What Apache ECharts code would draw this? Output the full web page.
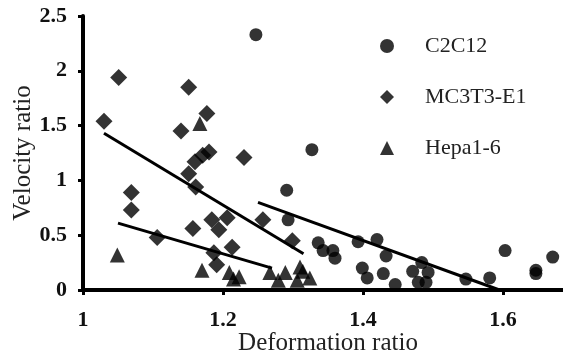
<!DOCTYPE html>
<html>
<head>
<meta charset="utf-8">
<script src="https://cdn.jsdelivr.net/npm/echarts@6/dist/echarts.min.js"></script>
<style>
  html, body { margin: 0; padding: 0; background: #fff; }
  #main { width: 563px; height: 354px; }
</style>
</head>
<body>
<div id="main"></div>
<script>
// points: [deformation ratio, velocity ratio]
var c2c12 = [
    [1.247, 2.33], [1.327, 1.28], [1.291, 0.91], [1.293, 0.64], [1.336, 0.43],
    [1.343, 0.36], [1.357, 0.36], [1.360, 0.29], [1.393, 0.44], [1.399, 0.20],
    [1.406, 0.11], [1.420, 0.46], [1.433, 0.31], [1.429, 0.15], [1.446, 0.05],
    [1.471, 0.17], [1.484, 0.25], [1.493, 0.16], [1.479, 0.07], [1.490, 0.07],
    [1.547, 0.10], [1.581, 0.11], [1.603, 0.36], [1.647, 0.18], [1.647, 0.15],
    [1.671, 0.30]
];
var mc3t3 = [
    [1.030, 1.54], [1.051, 1.94], [1.151, 1.85], [1.140, 1.45], [1.177, 1.61],
    [1.230, 1.21], [1.160, 1.17], [1.171, 1.23], [1.180, 1.26], [1.151, 1.06],
    [1.161, 0.94], [1.069, 0.89], [1.069, 0.73], [1.106, 0.48], [1.157, 0.56],
    [1.184, 0.64], [1.194, 0.55], [1.206, 0.66], [1.213, 0.39], [1.187, 0.34],
    [1.191, 0.23], [1.257, 0.64], [1.299, 0.45]
];
var hepa = [
    [1.049, 0.32], [1.167, 1.52], [1.170, 0.18], [1.209, 0.16], [1.215, 0.10],
    [1.223, 0.12], [1.267, 0.16], [1.279, 0.09], [1.289, 0.16], [1.306, 0.09],
    [1.310, 0.21], [1.314, 0.17], [1.324, 0.11]
];
// trend line end points
var fitC2c12 = [[1.25, 0.80], [1.595, 0.0]];
var fitMc3t3 = [[1.03, 1.43], [1.315, 0.33]];
var fitHepa = [[1.05, 0.61], [1.27, 0.20]];

var seriesNames = ['C2C12', 'MC3T3-E1', 'Hepa1-6'];

var chart = echarts.init(document.getElementById('main'));

var fitLine = function (data) {
    return {
        type: 'line',
        data: data,
        showSymbol: false,
        symbol: 'none',
        silent: true,
        lineStyle: { color: '#000', width: 3 },
        z: 1
    };
};

var tickFont = {
    fontFamily: 'Liberation Serif',
    fontWeight: 'bold',
    fontSize: 22,
    color: '#111'
};

var option = {
    animation: false,
    backgroundColor: '#fff',
    grid: { left: 83, top: 16, right: -10, bottom: 64, outerBoundsMode: 'none' },
    legend: {
        orient: 'vertical',
        left: 375,
        top: 30,
        itemWidth: 14,
        itemHeight: 14,
        itemGap: 29,
        data: seriesNames,
        textStyle: {
            fontFamily: 'Liberation Serif',
            fontSize: 22,
            color: '#222',
            padding: [0, 0, 0, 26]
        }
    },
    xAxis: {
        type: 'value',
        min: 1,
        max: 1.7,
        interval: 0.2,
        name: 'Deformation ratio',
        nameLocation: 'middle',
        nameGap: 41,
        nameMoveOverlap: false,
        nameTextStyle: { fontFamily: 'Liberation Serif', fontSize: 25, color: '#222' },
        splitLine: { show: false },
        axisLine: { lineStyle: { color: '#000', width: 4 } },
        axisTick: { length: 5, lineStyle: { color: '#000', width: 3 } },
        axisLabel: Object.assign({ margin: 19, showMaxLabel: false }, tickFont)
    },
    yAxis: {
        type: 'value',
        min: 0,
        max: 2.5,
        interval: 0.5,
        name: 'Velocity ratio',
        nameLocation: 'middle',
        nameGap: 47,
        nameMoveOverlap: false,
        nameTextStyle: { fontFamily: 'Liberation Serif', fontSize: 25, color: '#222' },
        splitLine: { show: false },
        axisLine: { show: true, lineStyle: { color: '#000', width: 4 } },
        axisTick: { show: true, length: 5, lineStyle: { color: '#000', width: 3 } },
        axisLabel: Object.assign({ margin: 16 }, tickFont)
    },
    series: [
        {
            name: 'C2C12',
            type: 'scatter',
            symbol: 'circle',
            symbolSize: 13,
            itemStyle: { color: '#000' },
            data: c2c12,
            z: 2
        },
        {
            name: 'MC3T3-E1',
            type: 'scatter',
            symbol: 'diamond',
            symbolSize: 17,
            itemStyle: { color: '#000' },
            data: mc3t3,
            z: 2
        },
        {
            name: 'Hepa1-6',
            type: 'scatter',
            symbol: 'triangle',
            symbolSize: 15,
            itemStyle: { color: '#000' },
            data: hepa,
            z: 2
        },
        fitLine(fitC2c12),
        fitLine(fitMc3t3),
        fitLine(fitHepa)
    ]
};

chart.setOption(option);
</script>
</body>
</html>
